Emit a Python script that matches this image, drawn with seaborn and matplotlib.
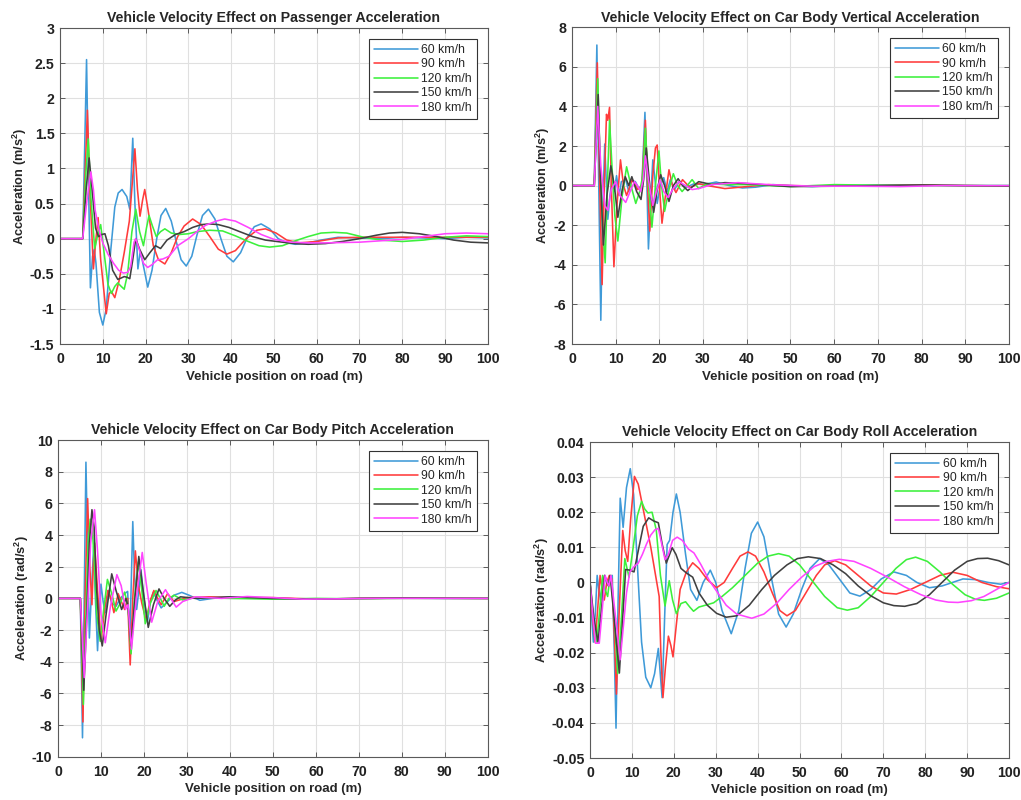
import numpy as np
import pandas as pd
import matplotlib
matplotlib.use("Agg")
import matplotlib.pyplot as plt
import seaborn as sns
from matplotlib.ticker import FuncFormatter, MultipleLocator

speeds = ["60 km/h", "90 km/h", "120 km/h", "150 km/h", "180 km/h"]
colors = ["#3f9ad8", "#ff3b3b", "#3cf03c", "#404040", "#ff44ff"]

titles = ["Vehicle Velocity Effect on Passenger Acceleration",
          "Vehicle Velocity Effect on Car Body Vertical Acceleration",
          "Vehicle Velocity Effect on Car Body Pitch Acceleration",
          "Vehicle Velocity Effect on Car Body Roll Acceleration"]
ylabels = ["Acceleration (m/s$^\\mathbf{2}$)", "Acceleration (m/s$^\\mathbf{2}$)",
           "Acceleration (rad/s$^\\mathbf{2}$)", "Acceleration (rad/s$^\\mathbf{2}$)"]
xlabel = "Vehicle position on road (m)"
x_ticks = [0, 10, 20, 30, 40, 50, 60, 70, 80, 90, 100]

# ---------------- Passenger acceleration ----------------
pas_60 = [(0,0),(5.3,0),(5.8,1.4),(6.2,2.55),(6.6,1.0),(7.1,-0.70),(7.6,-0.25),(8.0,-0.15),(8.4,-0.35),(9.2,-1.05),(10.0,-1.23),(10.8,-1.0),(11.8,-0.2),(12.8,0.45),(13.6,0.65),(14.5,0.70),(15.6,0.6),(16.3,0.42),(16.7,1.0),(17.0,1.43),(17.5,0.5),(18.2,-0.43),(18.7,-0.2),(19.2,-0.3),(20.5,-0.69),(21.5,-0.45),(22.6,0.0),(23.6,0.33),(24.7,0.43),(26.0,0.25),(27.2,-0.05),(28.3,-0.3),(29.5,-0.39),(30.8,-0.25),(32.0,0.05),(33.3,0.33),(34.7,0.42),(36.2,0.28),(37.6,0.0),(39.0,-0.25),(40.5,-0.33),(42.2,-0.2),(43.8,0.02),(45.4,0.17),(47.0,0.21),(49.0,0.14),(51.0,0.0),(53.0,-0.06),(55.0,-0.08),(58.0,-0.06),(61.0,-0.02),(65.0,0.02),(70.0,0.01),(75.0,0.0),(80.0,0.02),(85.0,0.01),(90.0,0.0),(95.0,0.02),(100.0,0.01)]
pas_90 = [(0,0),(5.3,0),(5.9,1.0),(6.4,1.83),(6.9,0.8),(7.8,-0.43),(8.4,0.0),(8.9,0.30),(9.5,-0.3),(10.8,-1.07),(11.5,-0.78),(12.0,-0.75),(12.8,-0.84),(13.8,-0.6),(15.0,-0.2),(16.2,0.25),(16.9,0.8),(17.5,1.28),(18.1,0.7),(18.7,0.32),(19.3,0.55),(19.8,0.70),(20.6,0.4),(21.8,-0.1),(23.0,-0.3),(24.5,-0.36),(26.0,-0.2),(27.5,0.03),(29.0,0.18),(31.0,0.28),(33.0,0.2),(35.0,0.03),(37.0,-0.15),(39.0,-0.22),(41.0,-0.17),(43.5,0.0),(46.0,0.12),(48.0,0.14),(50.5,0.08),(53.0,-0.02),(56.0,-0.06),(60.0,-0.04),(65.0,0.01),(70.0,0.02),(80.0,0.02),(90.0,0.02),(100.0,0.02)]
pas_120 = [(0,0),(5.3,0),(6.0,0.9),(6.6,1.42),(7.2,0.6),(8.1,-0.14),(8.8,0.05),(9.5,0.20),(10.3,-0.2),(11.2,-0.65),(12.0,-0.78),(12.8,-0.68),(13.5,-0.63),(14.3,-0.68),(15.0,-0.72),(15.8,-0.5),(16.8,0.1),(17.7,0.42),(18.6,0.1),(19.5,-0.10),(20.2,0.15),(20.8,0.33),(21.6,0.18),(22.5,0.03),(23.5,0.1),(24.5,0.14),(26.0,0.08),(28.0,0.06),(30.0,0.07),(32.0,0.1),(35.0,0.12),(38.0,0.11),(41.0,0.04),(44.0,-0.04),(46.5,-0.1),(49.0,-0.12),(52.0,-0.1),(55.0,-0.03),(58.0,0.03),(61.0,0.08),(64.0,0.09),(67.0,0.08),(71.0,0.02),(75.0,-0.02),(80.0,-0.04),(85.0,-0.02),(90.0,0.02),(95.0,0.04),(100.0,0.03)]
pas_150 = [(0,0),(5.3,0),(6.1,0.7),(6.8,1.15),(7.5,0.7),(8.3,0.15),(9.0,0.03),(9.8,0.06),(10.5,0.07),(11.3,-0.1),(12.3,-0.45),(13.5,-0.58),(14.3,-0.56),(15.0,-0.54),(15.7,-0.55),(16.3,-0.57),(17.0,-0.3),(17.7,0.0),(18.6,-0.15),(19.8,-0.30),(21.0,-0.2),(22.3,-0.1),(23.5,-0.14),(25.0,-0.02),(27.0,0.06),(29.0,0.1),(31.0,0.16),(33.0,0.2),(35.0,0.21),(37.0,0.2),(39.5,0.16),(42.0,0.1),(45.0,0.03),(48.0,-0.02),(52.0,-0.05),(55.0,-0.07),(58.0,-0.08),(62.0,-0.07),(66.0,-0.04),(70.0,0.0),(74.0,0.05),(77.0,0.08),(80.0,0.09),(84.0,0.07),(88.0,0.03),(92.0,-0.02),(96.0,-0.05),(100.0,-0.06)]
pas_180 = [(0,0),(5.3,0),(6.3,0.55),(7.2,0.95),(7.8,0.7),(8.2,0.41),(9.0,0.15),(10.0,-0.06),(11.2,-0.22),(12.5,-0.35),(13.7,-0.45),(14.8,-0.49),(15.8,-0.48),(16.5,-0.4),(17.3,-0.05),(17.7,0.0),(18.5,-0.15),(19.5,-0.35),(20.5,-0.41),(21.5,-0.37),(22.8,-0.3),(24.0,-0.29),(25.5,-0.25),(27.5,-0.1),(30.0,0.0),(32.0,0.1),(34.0,0.19),(36.5,0.25),(38.5,0.28),(41.0,0.25),(44.0,0.16),(47.0,0.06),(50.0,-0.01),(54.0,-0.05),(58.0,-0.06),(62.0,-0.06),(66.0,-0.055),(70.0,-0.05),(75.0,-0.03),(80.0,-0.01),(85.0,0.03),(90.0,0.07),(95.0,0.08),(100.0,0.07)]

# ---------------- Car body vertical acceleration ----------------
ver_60 = [(0,0),(5.1,0),(5.7,7.1),(6.1,0.5),(6.6,-6.8),(7.0,-1.5),(7.5,2.1),(7.9,0.0),(8.2,-1.7),(8.7,-0.5),(9.2,0.4),(9.7,-0.3),(10.2,0.5),(10.8,-0.5),(11.3,0.2),(12.3,0.3),(13.0,-0.3),(13.6,0.25),(14.5,0.2),(15.3,-0.15),(16.0,0.0),(16.7,3.7),(17.1,0.5),(17.5,-3.2),(18.0,-0.8),(18.5,1.3),(19.0,0.3),(19.5,-0.9),(20.2,0.0),(21.0,0.4),(21.8,-0.3),(22.5,0.3),(23.5,-0.2),(24.5,0.2),(26.0,-0.1),(28.0,0.1),(30.0,0.05),(33.0,0.18),(36.0,0.0),(39.0,-0.12),(42.0,-0.08),(46.0,0.05),(50.0,0.0),(55.0,-0.05),(60.0,0.0),(70.0,0.02),(80.0,0.03),(90.0,0.0),(100.0,0.0)]
ver_90 = [(0,0),(5.1,0),(5.8,6.2),(6.3,0.5),(6.9,-5.0),(7.4,0.0),(7.9,3.6),(8.2,3.3),(8.6,3.95),(9.0,0.0),(9.6,-4.1),(10.3,-1.0),(11.1,1.3),(11.8,0.0),(12.5,-0.5),(13.8,0.3),(15.0,-0.2),(16.0,0.0),(16.8,3.3),(17.3,0.0),(17.8,-2.3),(18.5,0.5),(19.1,1.9),(19.5,2.05),(20.0,0.0),(20.6,-1.9),(21.4,-0.5),(22.2,0.8),(23.0,0.0),(23.8,-0.35),(25.3,0.3),(27.0,-0.1),(29.0,0.1),(31.0,0.0),(35.0,-0.15),(40.0,-0.05),(45.0,0.05),(50.0,0.0),(60.0,-0.03),(70.0,0.0),(80.0,0.03),(90.0,0.0),(100.0,-0.02)]
ver_120 = [(0,0),(5.1,0),(5.9,5.4),(6.4,1.5),(7.0,-2.0),(7.6,-3.9),(8.1,0.0),(8.6,3.3),(9.2,0.8),(9.8,-1.5),(10.5,-2.8),(11.5,-0.5),(12.5,0.95),(13.5,0.0),(14.6,-0.9),(15.5,-0.3),(16.2,0.5),(16.8,2.9),(17.5,0.0),(18.3,-2.1),(19.1,0.0),(19.9,1.75),(20.5,0.0),(21.2,-1.3),(22.2,-0.2),(23.2,0.6),(24.2,0.0),(25.2,-0.3),(27.5,0.3),(29.0,-0.15),(31.0,0.1),(35.0,0.05),(40.0,0.05),(50.0,-0.05),(60.0,0.05),(70.0,0.02),(80.0,0.0),(90.0,0.0),(100.0,0.0)]
ver_150 = [(0,0),(5.1,0),(6.0,4.6),(6.5,0.5),(7.2,-3.0),(8.0,-0.5),(8.9,1.0),(9.7,0.0),(10.5,-1.6),(11.5,-0.2),(12.2,0.45),(13.0,0.0),(13.7,0.45),(14.8,-0.3),(15.8,-0.7),(16.4,0.3),(17.0,1.9),(17.8,0.0),(18.7,-1.35),(19.5,-0.2),(20.3,0.55),(21.2,0.0),(22.2,-0.8),(23.2,0.0),(24.3,0.35),(25.3,0.0),(26.5,-0.25),(29.0,0.2),(32.0,0.05),(35.0,0.15),(40.0,0.1),(50.0,-0.05),(60.0,-0.03),(70.0,0.0),(80.0,0.03),(90.0,0.0),(100.0,-0.02)]
ver_180 = [(0,0),(5.1,0),(5.9,4.0),(6.6,1.0),(7.5,-1.0),(8.2,-1.25),(9.0,-0.2),(10.0,0.2),(11.0,-0.5),(12.3,-0.85),(13.3,-0.3),(14.3,0.2),(15.0,0.0),(15.7,-0.3),(16.3,0.3),(16.8,1.5),(17.5,0.3),(18.5,-1.0),(19.3,-0.3),(20.2,0.3),(21.0,-0.3),(22.0,-0.6),(23.3,-0.1),(24.5,0.2),(26.0,0.0),(27.5,-0.2),(29.0,-0.15),(32.0,0.05),(38.0,0.15),(45.0,0.05),(55.0,-0.03),(65.0,-0.03),(75.0,-0.05),(85.0,0.0),(100.0,0.0)]

# ---------------- Car body pitch acceleration ----------------
pit_60 = [(0,0),(5.2,0),(5.7,-8.8),(6.1,0.0),(6.5,8.6),(6.9,3.0),(7.3,-2.5),(7.8,0.5),(8.3,3.3),(8.7,0.0),(9.2,-3.3),(9.6,-1.0),(10.0,0.9),(10.5,-0.2),(11.0,-0.9),(11.8,0.5),(12.5,-0.3),(13.5,-0.5),(14.5,0.0),(15.5,0.3),(16.2,0.44),(16.7,-2.5),(17.0,0.5),(17.4,4.85),(17.8,1.5),(18.3,-0.7),(18.8,0.5),(19.3,1.8),(20.0,0.0),(20.8,-1.5),(21.5,-0.2),(22.2,0.4),(23.0,-0.1),(24.0,-0.6),(25.5,-0.2),(27.0,0.2),(28.8,0.38),(30.5,0.2),(33.0,-0.12),(36.0,0.0),(40.0,0.1),(45.0,0.05),(50.0,0.0),(60.0,-0.05),(70.0,0.0),(80.0,0.02),(90.0,0.0),(100.0,0.0)]
pit_90 = [(0,0),(5.2,0),(5.8,-7.8),(6.3,0.0),(6.9,6.3),(7.4,2.0),(7.9,-0.4),(8.2,2.0),(8.5,3.5),(9.2,0.5),(10.0,-2.7),(10.8,-0.8),(11.6,0.5),(12.3,0.0),(13.0,-0.9),(14.0,0.3),(15.5,-0.7),(16.2,0.0),(16.8,-4.2),(17.4,0.0),(18.0,3.0),(18.7,0.8),(19.5,-0.3),(20.5,-1.4),(21.4,-0.2),(22.3,0.5),(23.2,0.0),(24.0,-0.4),(25.5,0.3),(27.0,-0.2),(30.0,0.05),(35.0,0.1),(40.0,0.05),(50.0,0.05),(60.0,-0.05),(70.0,0.0),(80.0,0.02),(100.0,0.0)]
pit_120 = [(0,0),(5.2,0),(5.9,-6.7),(6.5,-1.0),(7.0,3.5),(7.5,5.0),(7.9,4.8),(8.4,2.5),(9.0,-1.0),(9.8,-2.7),(10.6,-0.8),(11.5,1.2),(12.5,0.3),(13.5,-0.8),(14.5,-0.3),(15.5,0.4),(16.3,-0.5),(17.0,-3.5),(17.8,0.0),(18.7,2.3),(19.5,0.5),(20.3,-1.6),(21.5,-0.3),(22.8,0.5),(23.8,0.0),(24.7,-0.5),(25.8,0.0),(27.0,0.2),(29.0,-0.1),(32.0,0.05),(40.0,0.0),(50.0,-0.05),(60.0,0.0),(70.0,-0.03),(80.0,0.0),(100.0,0.0)]
pit_150 = [(0,0),(5.2,0),(6.0,-5.8),(6.7,-1.0),(7.3,3.5),(7.9,5.6),(8.4,4.5),(9.0,0.5),(9.6,-2.0),(10.3,-3.0),(11.2,-1.0),(12.5,1.55),(13.5,0.5),(14.8,-0.7),(15.8,0.0),(16.3,-0.5),(17.0,-3.0),(17.9,0.0),(18.8,2.65),(19.8,0.5),(21.0,-1.83),(22.2,-0.4),(23.5,0.6),(24.7,0.0),(26.0,-0.5),(27.3,-0.1),(28.5,0.1),(32.0,0.0),(40.0,0.1),(50.0,0.0),(60.0,-0.05),(70.0,0.0),(80.0,0.02),(100.0,0.0)]
pit_180 = [(0,0),(5.2,0),(6.1,-5.0),(6.9,-0.5),(7.6,3.5),(8.5,5.6),(9.2,3.0),(10.0,-1.0),(11.0,-2.8),(12.2,-0.5),(13.7,1.5),(14.7,0.8),(15.7,-0.7),(16.3,-0.4),(17.1,-3.2),(18.2,0.0),(19.6,2.9),(20.5,1.0),(21.8,-1.5),(23.2,-0.2),(25.0,0.55),(26.2,0.0),(27.5,-0.55),(29.0,-0.2),(32.0,0.1),(38.0,0.0),(44.0,0.12),(50.0,0.05),(57.0,-0.05),(65.0,-0.03),(75.0,0.0),(90.0,0.0),(100.0,0.0)]

# ---------------- Car body roll acceleration ----------------
rol_60 = [(0,0),(0.4,-0.010),(0.8,-0.017),(1.3,-0.008),(1.7,0.002),(2.1,-0.002),(2.5,-0.005),(3.0,0.0),(3.5,0.002),(4.0,0.0),(4.5,0.001),(5.3,0.002),(5.8,-0.02),(6.2,-0.0415),(6.7,-0.005),(7.2,0.024),(7.9,0.0157),(8.7,0.027),(9.6,0.0324),(10.4,0.025),(11.3,0.005),(12.3,-0.017),(13.3,-0.027),(14.5,-0.030),(15.4,-0.026),(16.3,-0.0188),(17.2,-0.0328),(17.8,-0.01),(18.4,0.0108),(19.0,0.012),(19.8,0.02),(20.6,0.0252),(21.5,0.02),(22.8,0.008),(24.0,-0.002),(25.5,-0.0051),(27.0,0.0),(28.7,0.0035),(30.0,0.0),(31.5,-0.008),(33.7,-0.0146),(35.5,-0.008),(37.0,0.004),(38.5,0.014),(40.0,0.0172),(41.5,0.013),(43.0,0.003),(45.0,-0.009),(46.8,-0.0127),(48.5,-0.009),(50.5,-0.002),(52.5,0.004),(54.8,0.0068),(57.0,0.005),(59.5,0.001),(62.0,-0.003),(64.4,-0.0039),(67.0,-0.002),(69.5,0.001),(72.5,0.003),(75.5,0.002),(78.0,0.0),(81.0,-0.0015),(84.0,-0.001),(86.5,0.0),(89.0,0.001),(92.0,0.0008),(95.0,0.0),(98.0,-0.0005),(100.0,0.0)]
rol_90 = [(0,0),(0.6,-0.010),(1.2,-0.017),(1.8,-0.008),(2.4,0.002),(2.9,-0.002),(3.4,-0.005),(4.0,0.0),(4.6,0.002),(5.2,0.001),(5.8,-0.015),(6.3,-0.0318),(6.9,-0.01),(7.8,0.0148),(8.4,0.009),(9.0,0.006),(9.7,0.018),(10.6,0.0302),(11.5,0.028),(12.5,0.022),(13.5,0.016),(14.5,0.01),(15.5,0.003),(16.5,-0.004),(16.9,-0.02),(17.4,-0.0328),(18.0,-0.024),(18.7,-0.0153),(19.3,-0.018),(19.8,-0.0212),(20.6,-0.012),(21.5,-0.002),(23.0,0.003),(24.5,0.0056),(26.0,0.004),(28.0,0.0008),(30.2,-0.0015),(32.0,0.0),(34.0,0.004),(35.8,0.0075),(37.7,0.0087),(39.5,0.0075),(41.5,0.003),(43.5,-0.003),(45.3,-0.008),(47.0,-0.0095),(49.0,-0.008),(51.5,-0.003),(54.0,0.002),(56.0,0.005),(58.4,0.0062),(61.0,0.005),(64.0,0.002),(67.0,-0.001),(70.0,-0.003),(73.1,-0.0033),(76.5,-0.002),(80.0,0.0),(83.5,0.002),(86.6,0.0029),(90.0,0.002),(93.5,0.0),(97.0,-0.0012),(100.0,-0.0018)]
rol_120 = [(0,0),(0.8,-0.010),(1.6,-0.017),(2.3,-0.008),(3.0,0.002),(3.6,-0.002),(4.2,-0.004),(4.6,0.0),(5.0,0.002),(5.8,-0.01),(6.6,-0.026),(7.4,-0.012),(8.3,0.0068),(9.3,0.0015),(10.3,0.01),(11.3,0.019),(12.3,0.0231),(13.0,0.021),(13.8,0.0198),(14.8,0.020),(15.8,0.015),(16.8,0.002),(17.9,-0.0067),(18.9,0.0005),(19.7,-0.005),(20.6,-0.0089),(21.7,-0.006),(22.8,-0.0055),(23.8,-0.007),(24.7,-0.0082),(26.0,-0.007),(27.5,-0.0065),(29.5,-0.0058),(31.5,-0.004),(34.0,-0.0015),(37.0,0.002),(40.0,0.0055),(42.5,0.0075),(45.0,0.0082),(47.5,0.0075),(50.0,0.005),(53.0,0.0005),(56.0,-0.004),(59.0,-0.0072),(61.4,-0.0079),(64.0,-0.0072),(67.0,-0.004),(70.0,0.0),(73.0,0.004),(75.5,0.0065),(77.7,0.0072),(80.5,0.006),(83.5,0.003),(86.5,-0.0005),(89.5,-0.0035),(92.0,-0.0048),(94.1,-0.0051),(97.0,-0.0045),(100.0,-0.003)]
rol_150 = [(0,0),(0.9,-0.010),(1.9,-0.017),(2.7,-0.008),(3.5,0.002),(4.0,0.0),(4.4,-0.001),(4.8,0.002),(5.9,-0.012),(7.0,-0.0258),(7.7,-0.012),(8.5,0.0037),(9.5,0.0035),(10.5,0.003),(11.5,0.009),(12.7,0.016),(14.0,0.0184),(15.2,0.0175),(16.3,0.017),(17.2,0.011),(18.2,0.0055),(19.0,0.008),(19.6,0.0099),(20.5,0.008),(21.7,0.004),(23.0,0.0027),(24.5,0.0015),(26.0,-0.003),(28.0,-0.0065),(30.2,-0.0088),(32.5,-0.0099),(35.0,-0.0095),(38.0,-0.0065),(41.0,-0.002),(44.0,0.002),(47.0,0.005),(49.5,0.0068),(52.1,0.0073),(55.0,0.0068),(58.0,0.005),(61.0,0.0025),(64.0,-0.001),(67.0,-0.0038),(70.0,-0.0058),(72.5,-0.0066),(75.1,-0.0068),(78.0,-0.006),(81.0,-0.0035),(84.0,0.0),(87.0,0.0035),(90.0,0.006),(92.5,0.0068),(94.9,0.0069),(97.5,0.0062),(100.0,0.005)]
rol_180 = [(0,0),(0.7,-0.010),(1.3,-0.0173),(2.2,-0.0173),(2.9,-0.008),(3.6,0.002),(4.1,0.0),(4.5,-0.001),(5.0,0.002),(6.1,-0.010),(7.2,-0.022),(8.0,-0.012),(8.7,-0.003),(9.5,0.003),(10.5,0.0045),(11.5,0.0055),(12.5,0.008),(13.5,0.011),(14.5,0.0135),(15.5,0.015),(16.3,0.0154),(17.1,0.011),(17.9,0.0065),(18.7,0.008),(19.7,0.012),(20.8,0.0129),(22.0,0.012),(23.5,0.0095),(24.8,0.0084),(26.5,0.005),(28.5,0.0005),(30.5,-0.003),(32.5,-0.0065),(35.0,-0.009),(38.6,-0.0102),(41.5,-0.009),(44.5,-0.006),(47.5,-0.002),(50.5,0.0015),(53.5,0.0045),(56.5,0.006),(59.5,0.0066),(63.0,0.006),(67.0,0.004),(71.0,0.0015),(75.0,-0.0012),(79.0,-0.0035),(82.5,-0.005),(85.5,-0.0056),(87.8,-0.0057),(91.0,-0.0052),(94.0,-0.004),(97.0,-0.002),(100.0,0.0)]

y_limits = [(-1.5, 3), (-8, 8), (-10, 10), (-0.05, 0.04)]
y_steps = [0.5, 2, 2, 0.01]
series = [[pas_60, pas_90, pas_120, pas_150, pas_180],
          [ver_60, ver_90, ver_120, ver_150, ver_180],
          [pit_60, pit_90, pit_120, pit_150, pit_180],
          [rol_60, rol_90, rol_120, rol_150, rol_180]]

sns.set_theme(style="ticks")
plt.rcParams["font.family"] = ["Liberation Sans", "DejaVu Sans"]
plt.rcParams["mathtext.fontset"] = "custom"
plt.rcParams["mathtext.rm"] = "Liberation Sans"
plt.rcParams["mathtext.bf"] = "Liberation Sans:bold"

fig = plt.figure(figsize=(10.21, 8.0), dpi=100)
positions = [(0.0588, 0.570, 0.419, 0.395),
             (0.5602, 0.570, 0.428, 0.396),
             (0.0568, 0.054, 0.421, 0.396),
             (0.5779, 0.0525, 0.4104, 0.395)]


def fmt(v, _):
    s = f"{v:.2f}".rstrip("0").rstrip(".")
    if s in ("-0", ""):
        s = "0"
    return s


for k in range(4):
    ax = fig.add_axes(positions[k])
    frames = []
    for lab, pts in zip(speeds, series[k]):
        d = pd.DataFrame(pts, columns=["x", "y"])
        d["speed"] = lab
        frames.append(d)
    df = pd.concat(frames, ignore_index=True)
    sns.lineplot(data=df, x="x", y="y", hue="speed", hue_order=speeds,
                 palette=colors, sort=False, estimator=None, units="speed",
                 linewidth=1.15, ax=ax)
    ax.set_xlim(0, 100)
    ax.set_ylim(*y_limits[k])
    ax.set_xticks(x_ticks)
    ax.yaxis.set_major_locator(MultipleLocator(y_steps[k]))
    ax.yaxis.set_major_formatter(FuncFormatter(fmt))
    ax.grid(True, color="#e0e0e0", linewidth=0.8)
    ax.set_axisbelow(True)
    for sp in ax.spines.values():
        sp.set_visible(True)
        sp.set_color("#5a5a5a")
        sp.set_linewidth(0.8)
    ax.tick_params(direction="in", length=3.5, width=0.7, color="#5a5a5a",
                   labelsize=10.2, top=True, right=True)
    ax.tick_params(axis="x", pad=6)
    ax.tick_params(axis="y", pad=4)
    for t in ax.get_xticklabels() + ax.get_yticklabels():
        t.set_fontweight("bold")
        t.set_color("#222222")
    ax.set_title(titles[k], fontsize=10.2, fontweight="bold", pad=4)
    ax.set_xlabel(xlabel, fontsize=9.5, fontweight="bold", labelpad=3)
    ax.set_ylabel(ylabels[k], fontsize=9.2, fontweight="bold", labelpad=1)
    leg = ax.legend(loc="upper right", frameon=True, fancybox=False,
                    edgecolor="#333333", framealpha=1, fontsize=8.8,
                    handlelength=3.6, labelspacing=0.2, borderaxespad=0.9,
                    borderpad=0.4, handletextpad=0.3, title=None)
    leg.get_frame().set_linewidth(0.8)

fig.savefig("out.png", dpi=100)
